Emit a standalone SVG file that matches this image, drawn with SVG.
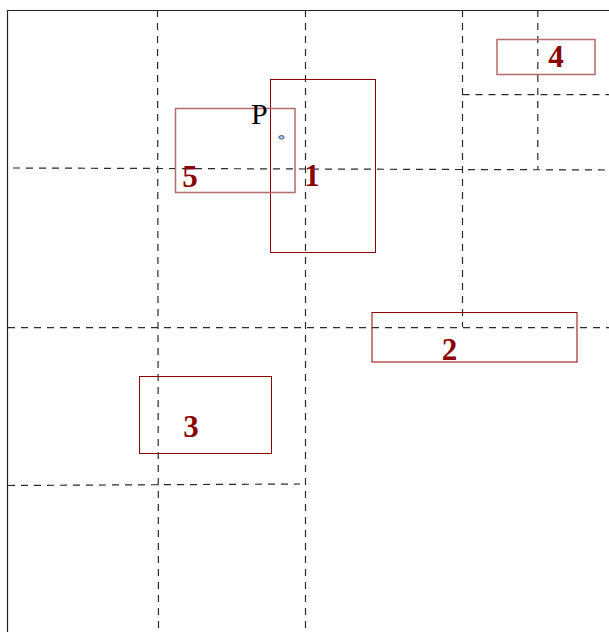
<svg xmlns="http://www.w3.org/2000/svg" width="609" height="632" viewBox="0 0 609 632">
  <style>
    .frame { stroke: #222; stroke-width: 1.2; fill: none; }
    .split { stroke: #2a2a2a; stroke-width: 1.2; stroke-dasharray: 7 6; fill: none; }
    .box { fill: none; stroke: #8b0000; stroke-width: 1; }
    .box.soft { stroke: #b36b6b; stroke-width: 1.5; }
    .num { font-family: "Liberation Serif", "Times New Roman", serif; font-weight: bold; font-size: 31px; fill: #8b0000; text-anchor: middle; }
    .lbl { font-family: "Liberation Serif", "Times New Roman", serif; font-size: 30px; fill: #000; }
  </style>
  <rect width="609" height="632" fill="#fff"/>

  <!-- outer frame: top and left edges -->
  <path class="frame" d="M7.5 632 V10.5 H609"/>

  <!-- partition lines -->
  <g id="connectors">
    <line class="split" x1="157.5" y1="10" x2="158.5" y2="632"/>
    <line class="split" x1="305.5" y1="10" x2="305.5" y2="632"/>
    <line class="split" x1="462.5" y1="10" x2="462.5" y2="327"/>
    <line class="split" x1="537.8" y1="10" x2="537.8" y2="169"/>
    <line class="split" x1="13" y1="168" x2="609" y2="170"/>
    <line class="split" x1="462.5" y1="94.7" x2="609" y2="94.7"/>
    <line class="split" x1="8" y1="327.7" x2="609" y2="327.7"/>
    <line class="split" x1="8" y1="485.5" x2="300" y2="484"/>
  </g>

  <g id="node-1">
    <rect class="box" x="270.5" y="79.5" width="105" height="173"/>
    <text class="num" x="312" y="185.5">1</text>
  </g>
  <g id="node-5">
    <rect class="box soft" x="175.5" y="108.5" width="119.5" height="84"/>
    <text class="num" x="190" y="186.5">5</text>
  </g>
  <g id="node-4">
    <rect class="box soft" x="497" y="39.5" width="98" height="35"/>
    <text class="num" x="556" y="66.5">4</text>
  </g>
  <g id="node-2">
    <rect class="box" x="372" y="312.5" width="205" height="49.5"/>
    <text class="num" x="449.5" y="359.5">2</text>
  </g>
  <g id="node-3">
    <rect class="box" x="139.5" y="376.5" width="132" height="77"/>
    <text class="num" x="191" y="436.5">3</text>
  </g>

  <g id="point-P">
    <text class="lbl" x="251" y="123.5">P</text>
    <ellipse cx="281.5" cy="137.3" rx="2.6" ry="1.8" fill="#9cc8f0" stroke="#1a3a6a" stroke-width="0.8"/>
  </g>
</svg>
